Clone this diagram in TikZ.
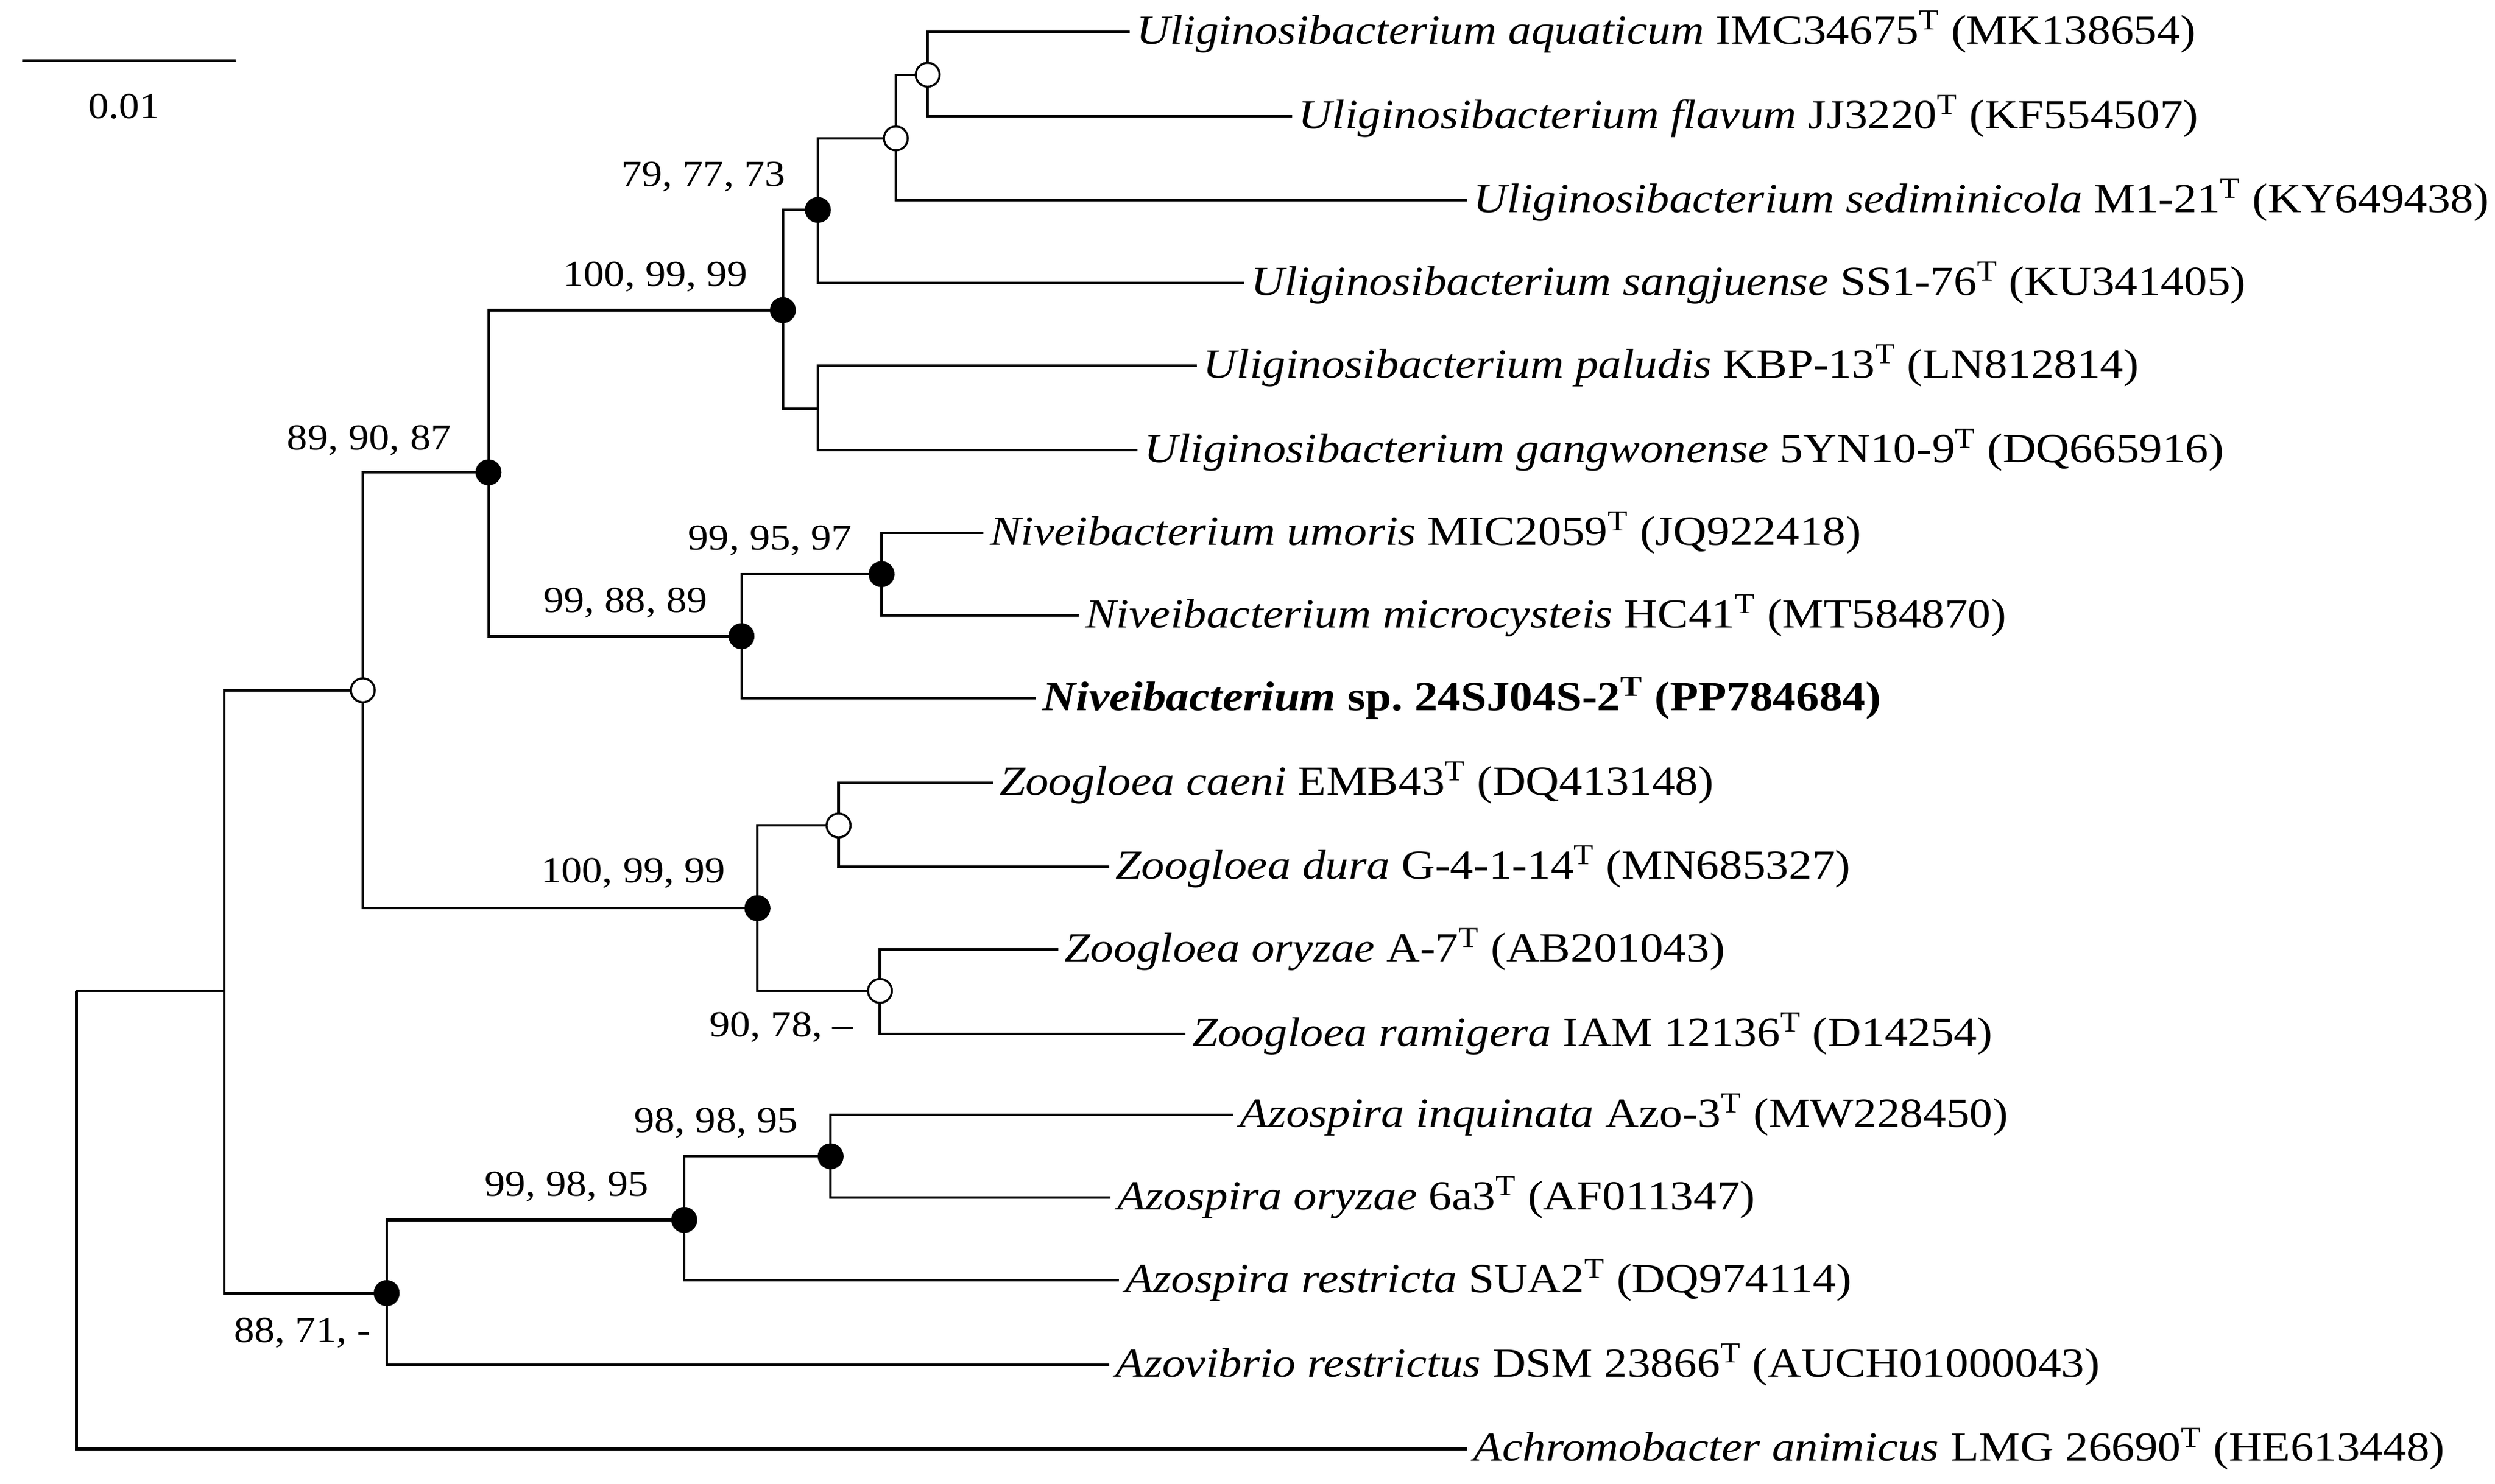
\documentclass[tikz,border=0pt]{standalone}
\usepackage{fontspec}
\setmainfont{Liberation Serif}[FakeStretch=1.12]
\begin{document}
\begin{tikzpicture}[x=1pt,y=-1pt,
  br/.style={line width=1.6pt},
  leaf/.style={anchor=west,inner sep=4pt,font=\fontsize{26}{30}\selectfont},
  lab/.style={font=\fontsize{23}{27}\selectfont,inner sep=1pt},
  full/.style={circle,fill=black,draw=black,line width=1.3pt,minimum size=15pt,inner sep=0pt},
  open/.style={circle,fill=white,draw=black,line width=1.3pt,minimum size=15pt,inner sep=0pt}]
\useasboundingbox (0,0) rectangle (1568,933);
% internal nodes
\coordinate (A) at (583,47);
\coordinate (B) at (563,87);
\coordinate (C) at (514,132);
\coordinate (D) at (514,257);
\coordinate (E) at (492,195);
\coordinate (F) at (554,361);
\coordinate (G) at (466,400);
\coordinate (H) at (307,297);
\coordinate (I) at (527,519);
\coordinate (J) at (553,623);
\coordinate (K) at (476,571);
\coordinate (L) at (228,434);
\coordinate (M) at (522,727);
\coordinate (N) at (430,767);
\coordinate (O) at (243,813);
\coordinate (P) at (141,623);
\coordinate (R) at (48,623);
% leaves
\node[leaf] (l1) at (710,20) {\textit{Uliginosibacterium aquaticum} IMC34675\textsuperscript{T} (MK138654)};
\node[leaf] (l2) at (812,73) {\textit{Uliginosibacterium flavum} JJ3220\textsuperscript{T} (KF554507)};
\node[leaf] (l3) at (922,126) {\textit{Uliginosibacterium sediminicola} M1-21\textsuperscript{T} (KY649438)};
\node[leaf] (l4) at (782,178) {\textit{Uliginosibacterium sangjuense} SS1-76\textsuperscript{T} (KU341405)};
\node[leaf] (l5) at (752,230) {\textit{Uliginosibacterium paludis} KBP-13\textsuperscript{T} (LN812814)};
\node[leaf] (l6) at (715,283) {\textit{Uliginosibacterium gangwonense} 5YN10-9\textsuperscript{T} (DQ665916)};
\node[leaf] (l7) at (618,335) {\textit{Niveibacterium umoris} MIC2059\textsuperscript{T} (JQ922418)};
\node[leaf] (l8) at (678,387) {\textit{Niveibacterium microcysteis} HC41\textsuperscript{T} (MT584870)};
\node[leaf] (l9) at (651,439) {\textbf{\textit{Niveibacterium} sp.\ 24SJ04S-2\textsuperscript{T} (PP784684)}};
\node[leaf] (l10) at (624,492) {\textit{Zoogloea caeni} EMB43\textsuperscript{T} (DQ413148)};
\node[leaf] (l11) at (697,545) {\textit{Zoogloea dura} G-4-1-14\textsuperscript{T} (MN685327)};
\node[leaf] (l12) at (665,597) {\textit{Zoogloea oryzae} A-7\textsuperscript{T} (AB201043)};
\node[leaf] (l13) at (745,650) {\textit{Zoogloea ramigera} IAM 12136\textsuperscript{T} (D14254)};
\node[leaf] (l14) at (775,701) {\textit{Azospira inquinata} Azo-3\textsuperscript{T} (MW228450)};
\node[leaf] (l15) at (698,753) {\textit{Azospira oryzae} 6a3\textsuperscript{T} (AF011347)};
\node[leaf] (l16) at (703,805) {\textit{Azospira restricta} SUA2\textsuperscript{T} (DQ974114)};
\node[leaf] (l17) at (697,858) {\textit{Azovibrio restrictus} DSM 23866\textsuperscript{T} (AUCH01000043)};
\node[leaf] (l18) at (922,911) {\textit{Achromobacter animicus} LMG 26690\textsuperscript{T} (HE613448)};
% branches
\draw[br] (A) |- (l1.west) (A) |- (l2.west);
\draw[br] (B) |- (A) (B) |- (l3.west);
\draw[br] (C) |- (B) (C) |- (l4.west);
\draw[br] (D) |- (l5.west) (D) |- (l6.west);
\draw[br] (E) |- (C) (E) |- (D);
\draw[br] (F) |- (l7.west) (F) |- (l8.west);
\draw[br] (G) |- (F) (G) |- (l9.west);
\draw[br] (H) |- (E) (H) |- (G);
\draw[br] (I) |- (l10.west) (I) |- (l11.west);
\draw[br] (J) |- (l12.west) (J) |- (l13.west);
\draw[br] (K) |- (I) (K) |- (J);
\draw[br] (L) |- (H) (L) |- (K);
\draw[br] (M) |- (l14.west) (M) |- (l15.west);
\draw[br] (N) |- (M) (N) |- (l16.west);
\draw[br] (O) |- (N) (O) |- (l17.west);
\draw[br] (P) |- (L) (P) |- (O);
\draw[br] (R) -- (P) (R) |- (l18.west);
% circles
\node[open] (cA) at (A) {};
\node[open] (cB) at (B) {};
\node[full] (cC) at (C) {};
\node[full] (cE) at (E) {};
\node[full] (cF) at (F) {};
\node[full] (cG) at (G) {};
\node[full] (cH) at (H) {};
\node[open] (cI) at (I) {};
\node[open] (cJ) at (J) {};
\node[full] (cK) at (K) {};
\node[open] (cL) at (L) {};
\node[full] (cM) at (M) {};
\node[full] (cN) at (N) {};
\node[full] (cO) at (O) {};
% bootstrap labels
\node[lab] (bC) at (442,111) {79, 77, 73};
\node[lab] (bE) at (412,174) {100, 99, 99};
\node[lab] (bF) at (484,340) {99, 95, 97};
\node[lab] (bG) at (393,379) {99, 88, 89};
\node[lab] (bH) at (232,277) {89, 90, 87};
\node[lab] (bK) at (398,549) {100, 99, 99};
\node[lab] (bJ) at (491,646) {90, 78, --};
\node[lab] (bM) at (450,706) {98, 98, 95};
\node[lab] (bN) at (356,746) {99, 98, 95};
\node[lab] (bO) at (190,838) {88, 71, -};
% scale bar
\coordinate (s1) at (14,38);
\coordinate (s2) at (148,38);
\draw[br] (s1) -- (s2);
\node[lab] (sl) at (78,67) {0.01};
\end{tikzpicture}
\end{document}
